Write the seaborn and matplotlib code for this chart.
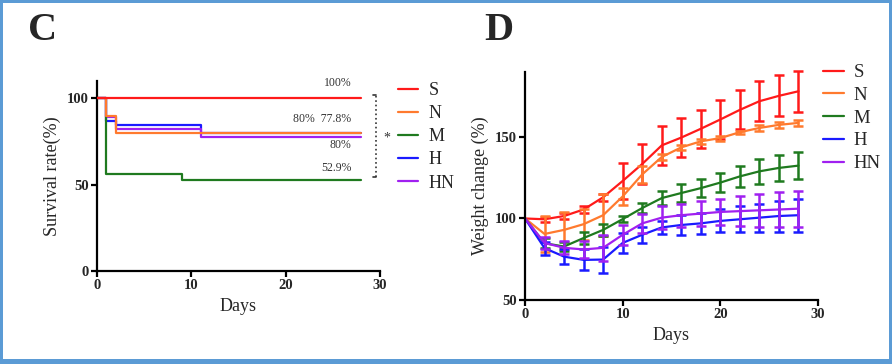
import numpy as np
import pandas as pd
import seaborn as sns
import matplotlib.pyplot as plt
from matplotlib.patches import Rectangle

# Survival data (C)
surv_days = [0, 1, 2, 9, 11, 28]
surv_S = [100, 100, 100, 100, 100, 100]
surv_N = [100, 90, 80, 80, 80, 80]
surv_M = [100, 56, 56, 52.9, 52.9, 52.9]
surv_H = [100, 86.7, 84.5, 84.5, 80, 80]
surv_HN = [100, 88.9, 82, 82, 77.8, 77.8]

# Weight change data (D)
wt_days = [0, 2, 4, 6, 8, 10, 12, 14, 16, 18, 20, 22, 24, 26, 28]
wt_S = [100, 99.5, 101.5, 105.5, 113, 123, 133.4, 144.8, 149.6, 155, 160.7, 166.6, 171.9, 175.2, 178]
wt_S_err = [0, 1.5, 2, 2, 2, 11, 12.3, 11.8, 12, 11.8, 11.9, 12, 12.3, 12.5, 12.6]
wt_N = [100, 90.5, 93, 96.5, 102, 113.5, 127, 137.7, 143.6, 147.3, 149.3, 152.9, 155.5, 157.4, 158.6]
wt_N_err = [0, 11, 11, 9.5, 13, 5, 5, 2, 1.5, 1.5, 1.5, 1, 2, 2, 2]
wt_M = [100, 84.8, 82.8, 88, 93, 99.6, 106.4, 112.5, 115.6, 118.6, 122, 125.8, 128.9, 131, 132.4]
wt_M_err = [0, 3, 3, 3.5, 3.5, 2, 3, 4.5, 5.5, 5.5, 6, 6.5, 7.5, 8, 8.5]
wt_H = [100, 81.8, 76.6, 74.6, 74.8, 85, 90, 94.5, 96, 97, 98.5, 99.5, 100.5, 101.5, 102]
wt_H_err = [0, 4, 4.5, 6.5, 8, 6, 5, 4, 6, 6.5, 7, 8, 8.5, 9.5, 10]
wt_HN = [100, 85, 82, 81, 82, 90, 97, 100.5, 102, 103, 104, 104.5, 105, 105.5, 106]
wt_HN_err = [0, 3.5, 4, 5, 8, 6, 6, 7, 7, 7.5, 8, 9, 10, 10.5, 11]

groups = ['S', 'N', 'M', 'H', 'HN']
colors = {'S': '#ff1a1a', 'N': '#ff7a2e', 'M': '#1f7a1f', 'H': '#1a1aff', 'HN': '#a020f0'}

sns.set_style('ticks')
plt.rcParams['font.family'] = ['Liberation Serif', 'DejaVu Serif']

fig = plt.figure(figsize=(8.92, 3.64), dpi=100)

# frame around the picture
frame = '#5b9bd5'
for (x0, y0, w, h) in [(0, 0, 3/892, 1), (1 - 3/892, 0, 3/892, 1), (0, 0, 1, 5/364), (0, 1 - 3/364, 1, 3/364)]:
    fig.add_artist(Rectangle((x0, y0), w, h, transform=fig.transFigure, color=frame, lw=0))

def style_axes(ax):
    for s in ['top', 'right']:
        ax.spines[s].set_visible(False)
    for s in ['left', 'bottom']:
        ax.spines[s].set_linewidth(1.6)
        ax.spines[s].set_color('black')
    ax.tick_params(direction='out', length=4, width=1.6, labelsize=10.5, pad=2, color='black')
    for lab in ax.get_xticklabels() + ax.get_yticklabels():
        lab.set_fontweight('bold')

# ---- Panel C ----
axC = fig.add_axes([97/892, 1 - 271/364, (380 - 97)/892, (271 - 81)/364])
surv = pd.DataFrame({'Days': surv_days, 'S': surv_S, 'N': surv_N, 'M': surv_M, 'H': surv_H, 'HN': surv_HN})
zorders = {'S': 5, 'N': 4, 'M': 3, 'H': 1, 'HN': 2}
for g in groups:
    sns.lineplot(data=surv, x='Days', y=g, ax=axC, color=colors[g], lw=1.6,
                 drawstyle='steps-post', label=g, zorder=zorders[g])
axC.set_xlim(0, 30)
axC.set_ylim(0, 110)
axC.set_xticks([0, 10, 20, 30])
axC.set_yticks([0, 50, 100])
axC.set_xlabel('Days', fontsize=13, labelpad=4)
axC.set_ylabel('Survival rate(%)', fontsize=13, labelpad=4)
style_axes(axC)

txt_kw = dict(fontsize=8.5, ha='center', va='center', color='#333333')
axC.text(25.5, 108.7, '100%', **txt_kw)
axC.text(23.9, 87.8, '80%  77.8%', **txt_kw)
axC.text(25.8, 72.7, '80%', **txt_kw)
axC.text(25.4, 59.9, '52.9%', **txt_kw)
axC.plot([29.6, 29.6], [54.6, 101.7], ls=':', color='#333333', lw=1.2, clip_on=False)
axC.plot([29.3, 29.6], [101.7, 101.7], color='#333333', lw=1.2, clip_on=False)
axC.plot([29.3, 29.6], [54.6, 54.6], color='#333333', lw=1.2, clip_on=False)
axC.text(30.75, 77.0, '*', fontsize=10, ha='center', va='center', color='#333333')

axC.legend(loc='upper left', bbox_to_anchor=(398/892, 1 - 82/364), bbox_transform=fig.transFigure,
           frameon=False, fontsize=13, handlelength=1.1, handletextpad=0.6, labelspacing=0.34,
           borderpad=0, borderaxespad=0)

fig.text(28/892, 1 - 40/364, 'C', fontsize=29, fontweight='bold', ha='left', va='baseline')

# ---- Panel D ----
axD = fig.add_axes([525/892, 1 - 300/364, (818 - 525)/892, (300 - 71.7)/364])
wt_vals = {'S': (wt_S, wt_S_err), 'N': (wt_N, wt_N_err), 'M': (wt_M, wt_M_err),
           'H': (wt_H, wt_H_err), 'HN': (wt_HN, wt_HN_err)}
for g in groups:
    mean, err = wt_vals[g]
    axD.errorbar(wt_days[1:], mean[1:], yerr=err[1:], fmt='none', ecolor=colors[g],
                 elinewidth=1.8, capsize=3.5, capthick=1.8, clip_on=False)
    sns.lineplot(x=wt_days, y=mean, ax=axD, color=colors[g], lw=1.6, label=g)
axD.set_xlim(0, 30)
axD.set_ylim(50, 190)
axD.set_xticks([0, 10, 20, 30])
axD.set_yticks([50, 100, 150])
axD.set_xlabel('Days', fontsize=13, labelpad=4)
axD.set_ylabel('Weight change (%)', fontsize=13, labelpad=4)
style_axes(axD)

axD.legend(loc='upper left', bbox_to_anchor=(823/892, 1 - 64/364), bbox_transform=fig.transFigure,
           frameon=False, fontsize=13.5, handlelength=1.1, handletextpad=0.55, labelspacing=0.3,
           borderpad=0, borderaxespad=0)

fig.text(484/892, 1 - 40/364, 'D', fontsize=29, fontweight='bold', ha='left', va='baseline')

fig.savefig('out.png', dpi=100)
